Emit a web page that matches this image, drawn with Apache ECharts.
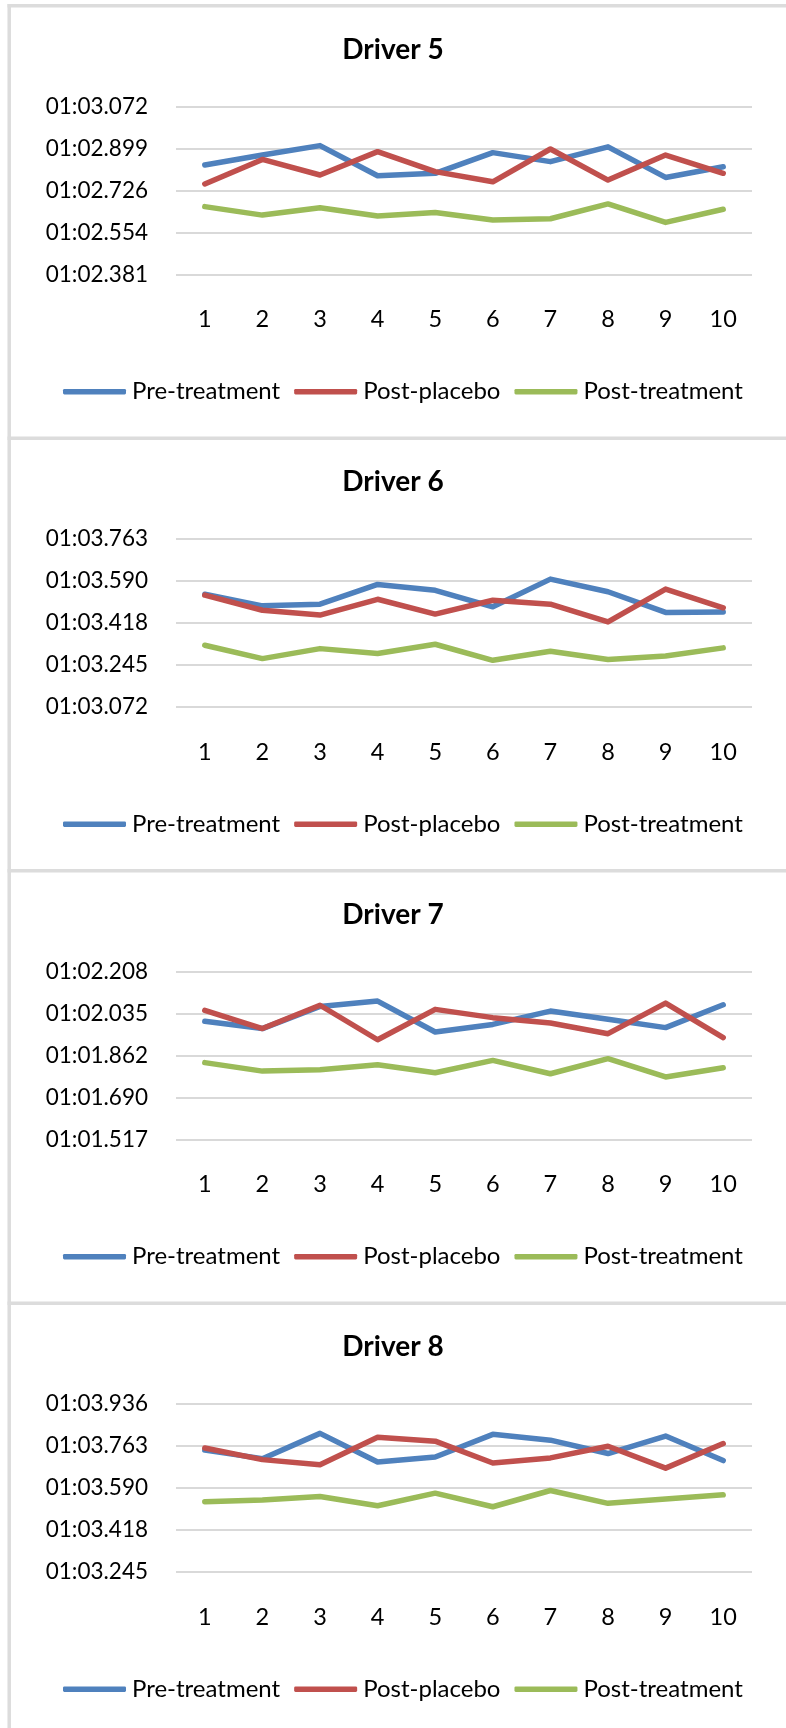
<!DOCTYPE html>
<html>
<head>
<meta charset="utf-8">
<title>Lap times per driver</title>
<script src="https://cdn.jsdelivr.net/npm/echarts@6/dist/echarts.min.js"></script>
<style>
  html, body { margin: 0; padding: 0; background: #ffffff; }
  #chart { width: 786px; height: 1728px; }
</style>
</head>
<body>
<div id="chart"></div>
<script>
// Lap numbers on the category axis
const laps = ['1', '2', '3', '4', '5', '6', '7', '8', '9', '10'];
const seriesNames = ['Pre-treatment', 'Post-placebo', 'Post-treatment'];
const seriesColors = ['#4F81BD', '#C0504D', '#9BBB59'];
const driverNames = ['Driver 5', 'Driver 6', 'Driver 7', 'Driver 8'];

// Lap times in seconds (01:02.832 -> 62.832)
const driver5Pre     = [62.832, 62.873, 62.912, 62.788, 62.798, 62.883, 62.846, 62.907, 62.781, 62.825];
const driver5Placebo = [62.754, 62.855, 62.791, 62.887, 62.805, 62.763, 62.898, 62.770, 62.873, 62.798];
const driver5Post    = [62.661, 62.626, 62.656, 62.622, 62.637, 62.606, 62.611, 62.672, 62.596, 62.650];

const driver6Pre     = [63.537, 63.489, 63.496, 63.577, 63.553, 63.485, 63.599, 63.547, 63.462, 63.464];
const driver6Placebo = [63.533, 63.471, 63.451, 63.516, 63.455, 63.512, 63.496, 63.423, 63.558, 63.481];
const driver6Post    = [63.327, 63.272, 63.313, 63.293, 63.331, 63.265, 63.302, 63.268, 63.283, 63.316];

const driver7Pre     = [62.004, 61.974, 62.065, 62.087, 61.960, 61.991, 62.046, 62.012, 61.978, 62.072];
const driver7Placebo = [62.049, 61.974, 62.070, 61.928, 62.053, 62.019, 61.997, 61.953, 62.079, 61.937];
const driver7Post    = [61.834, 61.799, 61.805, 61.825, 61.792, 61.843, 61.788, 61.850, 61.775, 61.813];

const driver8Pre     = [63.747, 63.712, 63.816, 63.698, 63.719, 63.812, 63.788, 63.733, 63.805, 63.704];
const driver8Placebo = [63.756, 63.708, 63.687, 63.800, 63.784, 63.694, 63.715, 63.763, 63.673, 63.774];
const driver8Post    = [63.535, 63.542, 63.556, 63.518, 63.570, 63.514, 63.581, 63.528, 63.546, 63.563];

// Value-axis tick labels (mm:ss.SSS), bottom to top
const driver5Ticks = ['01:02.381', '01:02.554', '01:02.726', '01:02.899', '01:03.072'];
const driver6Ticks = ['01:03.072', '01:03.245', '01:03.418', '01:03.590', '01:03.763'];
const driver7Ticks = ['01:01.517', '01:01.690', '01:01.862', '01:02.035', '01:02.208'];
const driver8Ticks = ['01:03.245', '01:03.418', '01:03.590', '01:03.763', '01:03.936'];

const driverSeries = [
  [driver5Pre, driver5Placebo, driver5Post],
  [driver6Pre, driver6Placebo, driver6Post],
  [driver7Pre, driver7Placebo, driver7Post],
  [driver8Pre, driver8Placebo, driver8Post]
];
const driverTicks = [driver5Ticks, driver6Ticks, driver7Ticks, driver8Ticks];

// Tick spacing: 0.000002 day = 0.1728 s
const TICK_STEP = 0.1728;

function parseTime(label) {
  const parts = label.split(':');
  return Number(parts[0]) * 60 + Number(parts[1]);
}
function formatTime(v) {
  const ms = Math.round(v * 1000);
  const m = Math.floor(ms / 60000);
  const rest = ms - m * 60000;
  const s = Math.floor(rest / 1000);
  const milli = rest - s * 1000;
  return String(m).padStart(2, '0') + ':' + String(s).padStart(2, '0') + '.' + String(milli).padStart(3, '0');
}

// Panel layout
const PANEL_TOP0 = 5.7;
const PANEL_STEP = 432.5;
const GRID_LEFT = 176;
const GRID_WIDTH = 576;
const GRID_OFFSET = 101;
const GRID_HEIGHT = 168;
const BORDER_COLOR = '#dcdcdc';
const FONT = 'Lato, "Open Sans", sans-serif';

const titles = [], grids = [], xAxes = [], yAxes = [], legends = [], series = [];
const graphics = [];

// left border running down all panels
graphics.push({
  type: 'line',
  shape: { x1: 9.2, y1: 4, x2: 9.2, y2: 1728 },
  style: { stroke: BORDER_COLOR, lineWidth: 3.5 },
  silent: true
});

driverNames.forEach(function (name, i) {
  const top = PANEL_TOP0 + PANEL_STEP * i;
  const ticks = driverTicks[i];
  const minSteps = Math.round(parseTime(ticks[0]) / TICK_STEP);
  const maxSteps = Math.round(parseTime(ticks[ticks.length - 1]) / TICK_STEP);

  graphics.push({
    type: 'line',
    shape: { x1: 7.5, y1: top, x2: 786, y2: top },
    style: { stroke: BORDER_COLOR, lineWidth: 3.5 },
    silent: true
  });

  titles.push({
    text: name,
    left: 'center',
    top: top + 29,
    textStyle: { fontFamily: FONT, fontSize: 28, fontWeight: 'bold', color: '#000000', lineHeight: 30 },
    padding: 0
  });

  grids.push({
    left: GRID_LEFT,
    top: top + GRID_OFFSET,
    width: GRID_WIDTH,
    height: GRID_HEIGHT,
    containLabel: false
  });

  xAxes.push({
    type: 'category',
    gridIndex: i,
    data: laps,
    boundaryGap: true,
    axisLine: { show: false },
    axisTick: { show: false },
    axisLabel: { fontFamily: FONT, fontSize: 23.5, color: '#000000', margin: 33 }
  });

  yAxes.push({
    type: 'value',
    gridIndex: i,
    min: minSteps * TICK_STEP,
    max: maxSteps * TICK_STEP,
    interval: TICK_STEP,
    axisLine: { show: false },
    axisTick: { show: false },
    splitLine: { show: true, lineStyle: { color: '#d9d9d9', width: 2 } },
    axisLabel: {
      fontFamily: FONT,
      fontSize: 22.5,
      color: '#000000',
      margin: 28,
      formatter: formatTime
    }
  });

  legends.push({
    data: seriesNames,
    left: 63,
    top: top + 374,
    orient: 'horizontal',
    itemWidth: 63,
    itemHeight: 5.5,
    itemGap: 14,
    icon: 'roundRect',
    selectedMode: false,
    textStyle: { fontFamily: FONT, fontSize: 24, color: '#000000', padding: [0, 0, 0, 1] },
    padding: 0
  });

  seriesNames.forEach(function (sName, k) {
    series.push({
      name: sName,
      type: 'line',
      xAxisIndex: i,
      yAxisIndex: i,
      data: driverSeries[i][k],
      symbol: 'none',
      showSymbol: false,
      smooth: false,
      animation: false,
      itemStyle: { color: seriesColors[k] },
      lineStyle: { color: seriesColors[k], width: 5.5, cap: 'round', join: 'round' },
      emphasis: { disabled: true }
    });
  });
});

const chart = echarts.init(document.getElementById('chart'), null, { renderer: 'canvas' });
chart.setOption({
  backgroundColor: '#ffffff',
  animation: false,
  title: titles,
  grid: grids,
  xAxis: xAxes,
  yAxis: yAxes,
  legend: legends,
  series: series,
  graphic: graphics
});
</script>
</body>
</html>
